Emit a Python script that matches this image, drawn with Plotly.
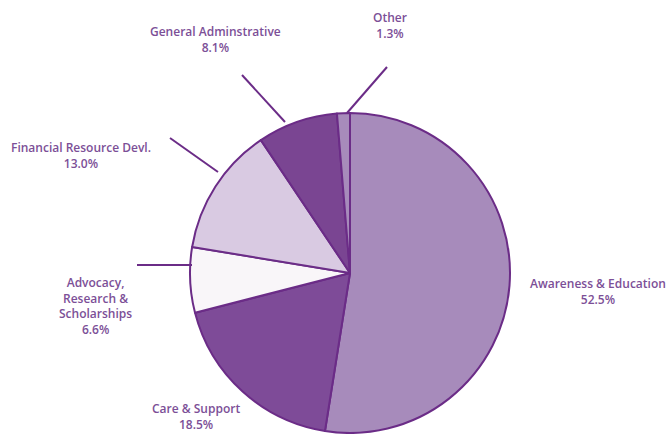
import plotly.graph_objects as go

# ---- data ----
categories = ["Awareness & Education", "Care & Support", "Advocacy, Research & Scholarships",
              "Financial Resource Devl.", "General Adminstrative", "Other"]
values = [52.5, 18.5, 6.6, 13.0, 8.1, 1.3]
label_texts = ["Awareness & Education<br>52.5%", "Care & Support<br>18.5%",
               "Advocacy,<br>Research &<br>Scholarships<br>6.6%",
               "Financial Resource Devl.<br>13.0%", "General Adminstrative<br>8.1%",
               "Other<br>1.3%"]

# ---- style ----
W, H = 666, 434
colors = ["#a78bbb", "#7e4b98", "#f9f6f9", "#d9cae2", "#7a4592", "#a78bbb"]
outline = "#6b2c87"
text_color = "#7c4f97"
cx, cy, R = 350, 273, 160  # pixel layout of the pie

# label anchor positions (pixels, center of text block)
label_pos = [(598, 291), (196, 416), (95, 306), (81, 155), (215, 39), (390, 25)]
# leader lines (pixel endpoints) for the labels that have them
leaders = {2: ((137, 265), (192, 265)),
           3: ((170, 138), (218, 172)),
           4: ((242, 75), (285, 122)),
           5: ((387, 67), (347, 113))}

def px(x):
    return x / W

def py(y):
    return 1 - y / H

fig = go.Figure(go.Pie(
    labels=categories,
    values=values,
    sort=False,
    direction="clockwise",
    rotation=0,
    textinfo="none",
    hoverinfo="label+percent",
    marker=dict(colors=colors, line=dict(color=outline, width=2)),
    domain=dict(x=[px(cx - R), px(cx + R)], y=[py(cy + R), py(cy - R)]),
    showlegend=False,
))

for i, t in enumerate(label_texts):
    x, y = label_pos[i]
    fig.add_annotation(x=px(x), y=py(y), xref="paper", yref="paper", text=t,
                       showarrow=False, xanchor="center", yanchor="middle",
                       align="center",
                       font=dict(family="Open Sans", size=12, color=text_color, weight=600))

for i, ((x0, y0), (x1, y1)) in leaders.items():
    fig.add_shape(type="line", xref="paper", yref="paper",
                  x0=px(x0), y0=py(y0), x1=px(x1), y1=py(y1),
                  line=dict(color=outline, width=2))

fig.update_layout(width=W, height=H, margin=dict(l=0, r=0, t=0, b=0),
                  paper_bgcolor="white", plot_bgcolor="white")

fig.write_html("out.html", config={"displayModeBar": False},
               post_script="document.body.style.margin='0';document.body.style.overflow='hidden';")
